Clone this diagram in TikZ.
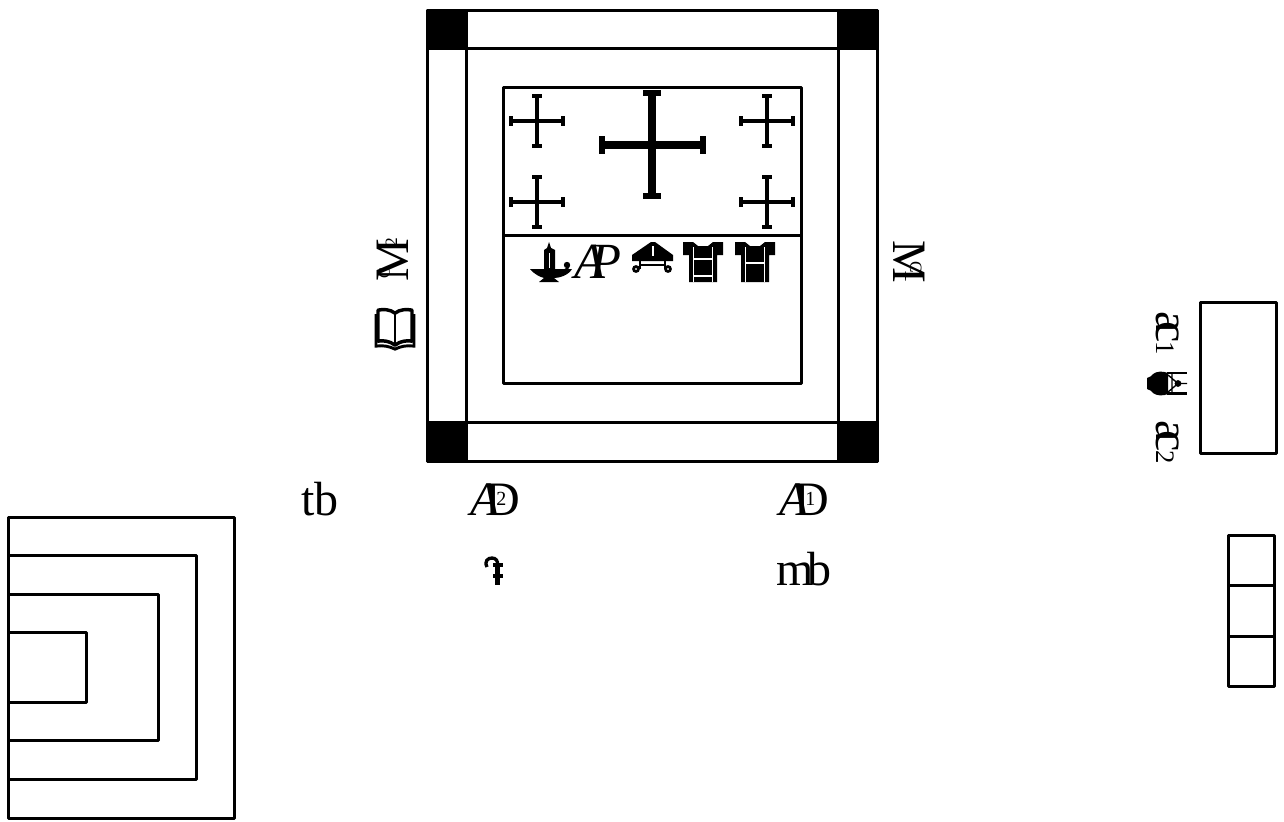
\documentclass[tikz,border=0pt]{standalone}
\usepackage{fontspec}
\setmainfont{Liberation Serif}
\tikzset{
  pxgrid/.style={x=0.75pt,y=-0.75pt},
  frame/.style={draw=black,line width=2.25pt,line join=round},
  corner/.style={fill=black,draw=black,line width=2.25pt,line join=round},
  smallcross/.style={line width=3pt},
  capbar/.style={line width=2.4pt},
  bigcross/.style={line width=6pt},
  bigcap/.style={line width=3.8pt},
  lig/.style={inner sep=0pt,outer sep=0pt,font=\fontsize{36}{36}\selectfont}
}
\newcommand{\MyAD}[1]{{\itshape A}\kern-.30em D\kern-.50em\raisebox{.20em}{\fontsize{15}{15}\selectfont #1}\kern.14em}
\newcommand{\MyAC}[1]{a\kern-.24em c\kern-.02em{\fontsize{20}{20}\selectfont #1}}
\newcommand{\MyMCleft}[1]{M\kern-.82em\raisebox{.40em}{\fontsize{12}{12}\selectfont C}\kern.44em\raisebox{.24em}{\fontsize{13}{13}\selectfont #1}}
\newcommand{\MyMCright}[1]{M\kern-.47em\raisebox{.35em}{\fontsize{13}{13}\selectfont C}\kern-.06em\raisebox{.25em}{\fontsize{20}{20}\selectfont #1}}
\newcommand{\MyCross}[2]{% x y
  \draw[smallcross] (#1-26,#2) -- (#1+26,#2);
  \draw[smallcross] (#1,#2-25) -- (#1,#2+25);
  \draw[capbar] (#1-26,#2-5) -- (#1-26,#2+5);
  \draw[capbar] (#1+26,#2-5) -- (#1+26,#2+5);
  \draw[capbar] (#1-5,#2-25) -- (#1+5,#2-25);
  \draw[capbar] (#1-5,#2+25) -- (#1+5,#2+25);
}
\newcommand{\MyTunic}[2]{% x left, rung
  \begin{scope}[shift={(#1,242)}]
    \fill[black] (0,0) -- (10,0) -- (15,4) -- (25,4) -- (30,0) -- (40,0) -- (40,13) -- (34,13) -- (34,40) -- (6,40) -- (6,13) -- (0,13) -- cycle;
    \draw[white,line width=1.1pt] (10.5,5) -- (10.5,40) (29.5,5) -- (29.5,40);
    \draw[white,line width=1.1pt] (10.5,#2) -- (29.5,#2);
    \ifnum#2<20 \draw[white,line width=1.1pt] (10.5,34) -- (29.5,34);\fi
  \end{scope}
}
\begin{document}
\begin{tikzpicture}[pxgrid]
\useasboundingbox (0,0) rectangle (1284,821);
% main frame
\fill[corner] (427,10) rectangle (466,48);
\fill[corner] (838,10) rectangle (877,48);
\fill[corner] (427,422) rectangle (466,461);
\fill[corner] (838,422) rectangle (877,461);
\draw[frame] (427,10) rectangle (877,461);
\draw[frame] (466,10) -- (466,461);
\draw[frame] (838,10) -- (838,461);
\draw[frame] (427,48) -- (877,48);
\draw[frame] (427,422) -- (877,422);
% inner panel
\draw[frame] (503,87) rectangle (801,383);
\draw[frame] (503,235) -- (801,235);
% crosses
\MyCross{537}{121}
\MyCross{767}{121}
\MyCross{537}{202}
\MyCross{767}{202}
\draw[bigcross] (601,145) -- (703,145);
\draw[bigcross] (652,93) -- (652,196);
\draw[bigcap] (602,136) -- (602,154);
\draw[bigcap] (703,136) -- (703,154);
\draw[bigcap] (643,93) -- (661,93);
\draw[bigcap] (643,196) -- (661,196);
% candle
\fill[black] (530,269) -- (572,269) .. controls (568,276) and (558,278) .. (554,278) -- (559,282) -- (539,282) -- (544,278) .. controls (540,277) and (534,274) .. (530,269) -- cycle;
\fill[black] (544,272) -- (544,250) -- (547,248) -- (549,242) -- (551,248) -- (555,250) -- (555,272) -- cycle;
\draw[white,line width=1.1pt] (549.5,253) -- (549.5,268);
\draw[black,line width=1.6pt] (555,271) .. controls (563,272) and (568,270) .. (569,265);
\fill[black] (567,265) circle (3.2);
% AP ligature
\node[lig,anchor=base,font=\fontsize{38}{38}\selectfont] (ap) at (598,278) {{\itshape A}\kern-.31em{\itshape P}};
% table
\fill[black] (651,242) -- (655,242) -- (673,255) -- (673,261) -- (632,261) -- (632,255) -- cycle;
\draw[white,line width=1pt] (653,246) -- (653,256);
\draw[black,line width=2pt] (640,261) -- (640,269) (665,261) -- (665,269) (640,265) -- (665,265);
\draw[black,line width=2pt] (636,269) circle (2.5) (668,269) circle (2.5);
% tunics
\MyTunic{683}{17}
\MyTunic{735}{21}
% left labels
\node[lig,rotate=90] (mc2) at (393,260) {\MyMCleft{2}};
\node[inner sep=0pt] (bookmark) at (395,329) {\tikz[x=0.75pt,y=-0.75pt]{
  \draw[black,line width=2.6pt,line join=round] (20,5) .. controls (15,1) and (8,1) .. (3,2) -- (3,33) .. controls (8,32) and (15,33) .. (20,37) .. controls (25,33) and (32,32) .. (37,33) -- (37,2) .. controls (32,1) and (25,1) .. (20,5) -- cycle;
  \draw[black,line width=1.3pt] (20,5) -- (20,37);
  \draw[black,line width=2.2pt] (1,6) -- (1,38) .. controls (8,37) and (14,38) .. (20,41) .. controls (26,38) and (32,37) .. (39,38) -- (39,6);
}};
% right label
\node[lig,rotate=-90] (mc1) at (909,262) {\MyMCright{1}};
% bottom labels
\node[lig,anchor=base] (tb) at (320,515) {tb};
\node[lig,anchor=base] (ad2) at (492,515) {\MyAD{2}};
\node[lig,anchor=base] (ad1) at (801,515) {\MyAD{1}};
\node[lig,anchor=base] (mb) at (804,585) {m\kern-.14em b};
% crozier
\draw[black,line width=2.5pt] (487,567) .. controls (484,561) and (488,558) .. (492,558) .. controls (496,558) and (498,561) .. (497.5,565);
\draw[black,line width=3.4pt] (497.5,564) -- (497.5,585);
\draw[black,line width=3.2pt] (493,565) -- (503,565);
\draw[black,line width=3.2pt] (493,576) -- (503,576);
% right column
\draw[frame] (1200,302) rectangle (1276,453);
\node[lig,rotate=-90] (ac1) at (1168,333.5) {\MyAC{1}};
\node[lig,rotate=-90] (ac2) at (1168,442.5) {\MyAC{2}};
% altar glyph (rotated)
\fill[black] (1147,378) .. controls (1150,377) and (1152,376) .. (1153,374) .. controls (1157,371) and (1163,371) .. (1168,373) -- (1168,394) .. controls (1163,396) and (1157,396) .. (1153,393) .. controls (1152,391) and (1150,390) .. (1147,389) -- cycle;
\draw[black,line width=1.6pt] (1167,373) -- (1187,373) (1167,393.5) -- (1187,393.5);
\draw[black,line width=1pt] (1168,375) -- (1178,383.5) -- (1168,392) (1172,374) -- (1172,393) (1178,383.5) -- (1187,383.5);
\fill[black] (1178,383.5) circle (3.4);
% stack
\draw[frame] (1228,535) rectangle (1274,686);
\draw[frame] (1228,585) -- (1274,585);
\draw[frame] (1228,636) -- (1274,636);
% nested squares
\draw[frame] (8,517) rectangle (234,818);
\draw[frame] (8,555) -- (196,555) -- (196,779) -- (8,779);
\draw[frame] (8,594) -- (158,594) -- (158,740) -- (8,740);
\draw[frame] (8,632) -- (86,632) -- (86,702) -- (8,702);
\end{tikzpicture}
\end{document}
